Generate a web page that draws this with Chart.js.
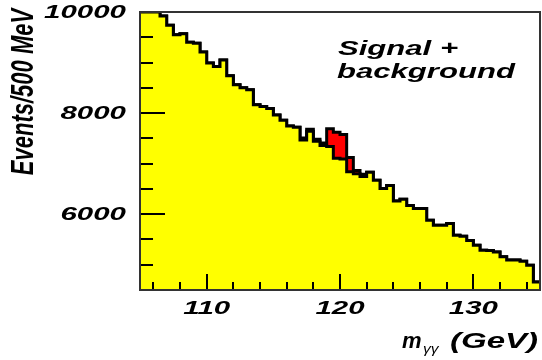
<!DOCTYPE html>
<html>
<head>
<meta charset="utf-8">
<script src="https://cdn.jsdelivr.net/npm/chart.js@4.4.0/dist/chart.umd.min.js"></script>
<style>
  html, body { margin: 0; background: #fff; }
  #wrap { width: 542px; height: 360px; position: relative; }
</style>
</head>
<body>
<div id="wrap"><canvas id="chartCanvas"></canvas></div>
<script>
// diphoton mass bins, 500 MeV wide (lower edges + final upper edge)
const binEdges = [
  105, 105.5, 106, 106.5, 107, 107.5, 108, 108.5, 109, 109.5,
  110, 110.5, 111, 111.5, 112, 112.5, 113, 113.5, 114, 114.5,
  115, 115.5, 116, 116.5, 117, 117.5, 118, 118.5, 119, 119.5,
  120, 120.5, 121, 121.5, 122, 122.5, 123, 123.5, 124, 124.5,
  125, 125.5, 126, 126.5, 127, 127.5, 128, 128.5, 129, 129.5,
  130, 130.5, 131, 131.5, 132, 132.5, 133, 133.5, 134, 134.5,
  135
];

// events per bin
const background = [
  10000, 10000, 10000, 9920, 9740, 9550, 9570, 9400, 9380, 9210,
  8990, 8920, 9050, 8740, 8560, 8500, 8460, 8165, 8130, 8090,
  7960, 7860, 7745, 7720, 7470, 7640, 7445, 7360, 7340, 7105,
  7090, 6840, 6800, 6745, 6830, 6672, 6506, 6565, 6260, 6295,
  6170, 6112, 6112, 5881, 5780, 5780, 5815, 5584, 5564, 5480,
  5386, 5287, 5280, 5254, 5160, 5095, 5095, 5070, 4990, 4660
];
const signal = [
  0, 0, 0, 0, 0, 0, 0, 0, 0, 0,
  0, 0, 0, 0, 0, 0, 0, 0, 0, 0,
  0, 0, 0, 0, 35, 40, 35, 50, 350, 515,
  485, 280, 65, 45, 0, 0, 0, 0, 0, 0,
  0, 0, 0, 0, 0, 0, 0, 0, 0, 0,
  0, 0, 0, 0, 0, 0, 0, 0, 0, 0
];

// axis ticks and labels
const xTicks = [106, 108, 110, 112, 114, 116, 118, 120, 122, 124, 126, 128, 130, 132, 134];
const xLabels = [110, 120, 130];
const yTicks = [5000, 5500, 6000, 6500, 7000, 7500, 8000, 8500, 9000, 9500];
const yLabels = [6000, 8000, 10000];

const FONT = '"Liberation Sans", Arial, sans-serif';

// stepped histogram points: one per lower edge, last value repeated at upper edge
function histPoints(values) {
  return binEdges.map((e, i) => ({ x: e, y: values[Math.min(i, values.length - 1)] }));
}

const total = background.map((b, i) => b + signal[i]);

// text is drawn a bit wider than its natural shape
function drawText(ctx, text, x, y, opts) {
  ctx.save();
  ctx.translate(x, y);
  ctx.scale(opts.sx || 1, 1);
  if (opts.angle) ctx.rotate(opts.angle);
  ctx.font = opts.font;
  ctx.textAlign = opts.align || 'left';
  ctx.textBaseline = opts.baseline || 'alphabetic';
  ctx.fillStyle = '#000';
  ctx.fillText(text, 0, 0);
  ctx.restore();
}

const frameAndLabels = {
  id: 'frameAndLabels',
  afterDatasetsDraw(chart) {
    const { ctx, chartArea: a, scales } = chart;
    const xs = scales.x, ys = scales.y;
    ctx.save();
    ctx.strokeStyle = '#000';
    ctx.lineWidth = 2;
    ctx.beginPath();
    yTicks.forEach(v => {
      const py = Math.round(ys.getPixelForValue(v));
      const len = v % 2000 === 0 ? 25 : 13;
      ctx.moveTo(a.left, py);
      ctx.lineTo(a.left + len, py);
    });
    xTicks.forEach(v => {
      const px = Math.round(xs.getPixelForValue(v));
      const len = v % 10 === 0 ? 16 : 8;
      ctx.moveTo(px, a.bottom);
      ctx.lineTo(px, a.bottom - len);
    });
    ctx.stroke();

    ctx.strokeStyle = '#333';
    ctx.strokeRect(a.left, a.top, a.right - a.left, a.bottom - a.top);
    ctx.restore();
  },
  afterDraw(chart) {
    const { ctx, scales } = chart;
    const xs = scales.x, ys = scales.y;
    const tickFont = 'italic bold 19px ' + FONT;

    yLabels.forEach(v => {
      drawText(ctx, String(v), 126, ys.getPixelForValue(v) + 1,
        { font: tickFont, sx: 1.55, align: 'right', baseline: 'middle' });
    });
    xLabels.forEach(v => {
      drawText(ctx, String(v), xs.getPixelForValue(v), 309,
        { font: tickFont, sx: 1.55, align: 'center', baseline: 'middle' });
    });

    drawText(ctx, 'Events/500 MeV', 24, 92,
      { font: 'italic bold 22px ' + FONT, sx: 1.45, angle: -Math.PI / 2, align: 'center', baseline: 'middle' });

    drawText(ctx, 'm', 402, 348, { font: 'italic bold 22px ' + FONT, sx: 1.0 });
    drawText(ctx, 'γγ', 423, 353, { font: 'italic 12px ' + FONT, sx: 1.3 });
    drawText(ctx, '(GeV)', 450, 348, { font: 'italic bold 22px ' + FONT, sx: 1.5 });

    drawText(ctx, 'Signal +', 338, 55, { font: 'italic bold 21px ' + FONT, sx: 1.48 });
    drawText(ctx, 'background', 337, 78, { font: 'italic bold 21px ' + FONT, sx: 1.48 });
  }
};

// 'before' keeps each bin's value flat across its own width
const chartInstance = new Chart(document.getElementById('chartCanvas'), {
  type: 'line',
  data: {
    datasets: [
      {
        label: 'background',
        data: histPoints(background),
        stepped: 'before',
        borderColor: '#000',
        borderWidth: 3,
        backgroundColor: '#ffff00',
        fill: 'start',
        pointRadius: 0
      },
      {
        label: 'signal + background',
        data: histPoints(total),
        stepped: 'before',
        borderColor: '#000',
        borderWidth: 3,
        backgroundColor: '#ff0000',
        fill: 'start',
        pointRadius: 0
      }
    ]
  },
  options: {
    responsive: true,
    maintainAspectRatio: false,
    animation: false,
    devicePixelRatio: 1,
    layout: { padding: { left: 140, right: 2, top: 12, bottom: 70 } },
    plugins: { legend: { display: false }, tooltip: { enabled: false } },
    scales: {
      x: { type: 'linear', min: 105, max: 135, display: false },
      y: { min: 4500, max: 10000, display: false }
    }
  },
  plugins: [frameAndLabels]
});
</script>
</body>
</html>
